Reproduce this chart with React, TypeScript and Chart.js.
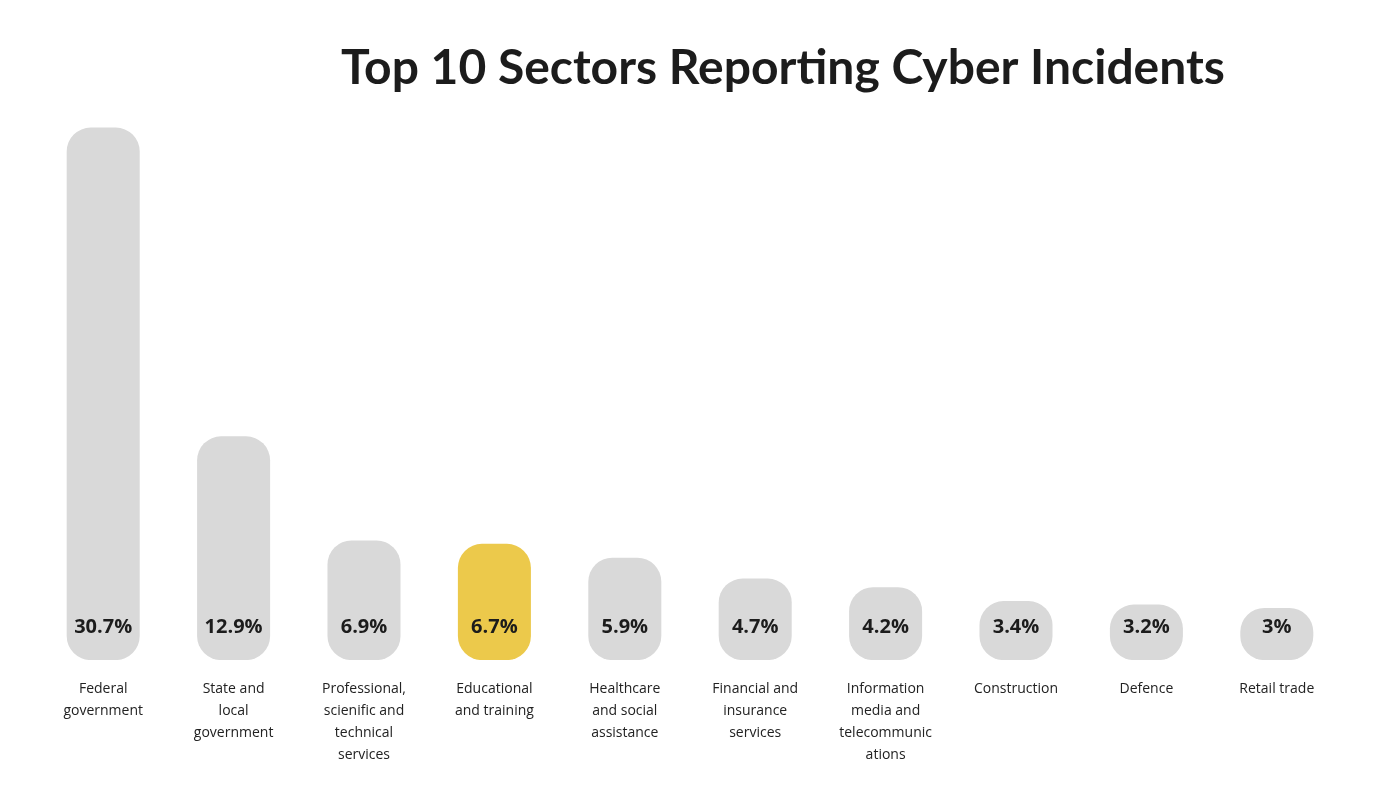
import React, { useEffect, useRef } from "react";
import { Chart, registerables } from "chart.js";

Chart.register(...registerables);

const TITLE = "Top 10 Sectors Reporting Cyber Incidents";
const categoryLabels: string[][] = [
  ["Federal", "government"],
  ["State and", "local", "government"],
  ["Professional,", "scienific and", "technical", "services"],
  ["Educational", "and training"],
  ["Healthcare", "and social", "assistance"],
  ["Financial and", "insurance", "services"],
  ["Information", "media and", "telecommunic", "ations"],
  ["Construction"],
  ["Defence"],
  ["Retail trade"],
];
const values: number[] = [30.7, 12.9, 6.9, 6.7, 5.9, 4.7, 4.2, 3.4, 3.2, 3];
const valueLabels: string[] = ["30.7%", "12.9%", "6.9%", "6.7%", "5.9%", "4.7%", "4.2%", "3.4%", "3.2%", "3%"];
const highlightIndex = 3;

const GRAY = "#d9d9d9";
const YELLOW = "#ecc94b";
const FONT = "'Open Sans', sans-serif";

const titlePlugin = {
  id: "customTitle",
  afterDraw(chart: any) {
    const ctx = chart.ctx;
    ctx.save();
    ctx.font = `bold 48px Lato, ${FONT}`;
    ctx.fillStyle = "#1c1c1c";
    ctx.textAlign = "center";
    ctx.textBaseline = "alphabetic";
    ctx.fillText(TITLE, 775, 76);
    ctx.restore();
  },
};

const valuePlugin = {
  id: "valueLabels",
  afterDatasetsDraw(chart: any) {
    const ctx = chart.ctx;
    const meta = chart.getDatasetMeta(0);
    ctx.save();
    ctx.font = `bold 20px ${FONT}`;
    ctx.fillStyle = "#1c1c1c";
    ctx.textAlign = "center";
    ctx.textBaseline = "middle";
    meta.data.forEach((bar: any, i: number) => {
      ctx.fillText(valueLabels[i], bar.x, bar.base - 33);
    });
    ctx.restore();
  },
};

export default function App() {
  const ref = useRef<HTMLCanvasElement>(null);
  useEffect(() => {
    if (!ref.current) return;
    const chart = new Chart(ref.current, {
      type: "bar",
      data: {
        labels: categoryLabels,
        datasets: [
          {
            data: values,
            backgroundColor: values.map((_, i) => (i === highlightIndex ? YELLOW : GRAY)),
            borderRadius: 24,
            borderSkipped: false,
            barPercentage: 0.56,
            categoryPercentage: 1,
          },
        ],
      },
      options: {
        animation: false,
        responsive: false,
        layout: { padding: { top: 97, left: 30, right: 30, bottom: 6 } },
        plugins: {
          legend: { display: false },
          title: { display: false },
          tooltip: { enabled: false },
        },
        scales: {
          y: { display: false, min: 0, max: 32 },
          x: {
            grid: { display: false, drawTicks: false },
            border: { display: false },
            ticks: {
              autoSkip: false,
              maxRotation: 0,
              minRotation: 0,
              padding: 18,
              color: "#222",
              font: { family: FONT, size: 14, lineHeight: 1.57 },
            },
          },
        },
      },
      plugins: [titlePlugin, valuePlugin],
    });
    return () => chart.destroy();
  }, []);
  return (
    <div style={{ width: 1364, height: 782 }}>
      <canvas ref={ref} width={1364} height={782} style={{ display: "block" }} />
    </div>
  );
}
